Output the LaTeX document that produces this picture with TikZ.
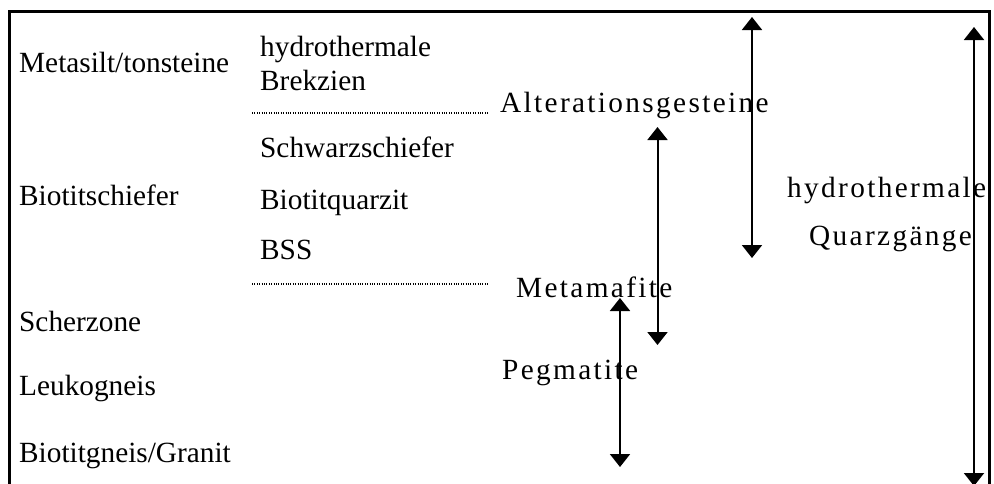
\documentclass[tikz,border=0pt]{standalone}
\usepackage{fontspec}
\setmainfont{Liberation Serif}
\newfontfamily\spacedfont[LetterSpace=8]{Liberation Serif}
\usetikzlibrary{arrows.meta}
\tikzset{
  lbl/.style={inner sep=0pt, anchor=base west, font=\fontsize{29.3}{35}\selectfont},
  slbl/.style={inner sep=0pt, anchor=base west, font=\fontsize{29.3}{35}\spacedfont},
  frame/.style={line width=3pt},
  dbl/.style={line width=2pt, {Triangle[width=20pt,length=13pt]}-{Triangle[width=20pt,length=13pt]}},
  sep/.style={line width=1.6pt, dash pattern=on 1pt off 1.4pt}
}
\begin{document}
\begin{tikzpicture}[x=1pt,y=-1pt]
\useasboundingbox (0,0) rectangle (994,483);
\begin{scope}
\clip (0,0) rectangle (994,483);
% frame
\coordinate (fbl) at (9,490);
\coordinate (ftl) at (9,11);
\coordinate (ftr) at (989,11);
\coordinate (fbr) at (989,490);
\draw[frame] (fbl) -- (ftl) -- (ftr) -- (fbr);

% left column
\node[lbl] (metasilt) at (19,72) {Metasilt/tonsteine};
\node[lbl] (biotitsch) at (19,205) {Biotitschiefer};
\node[lbl] (scher) at (19,331) {Scherzone};
\node[lbl] (leuko) at (19,395) {Leukogneis};
\node[lbl] (biotitgn) at (19,462) {Biotitgneis/Granit};

% middle column
\node[lbl] (hydbrek) at (260,56) {hydrothermale};
\node[lbl] (brek) at (260,90) {Brekzien};
\node[lbl] (schwarz) at (260,157) {Schwarzschiefer};
\node[lbl] (bquarz) at (260,209) {Biotitquarzit};
\node[lbl] (bss) at (260,259) {BSS};

% dotted separators
\coordinate (d1a) at (252,113);
\coordinate (d1b) at (488,113);
\coordinate (d2a) at (252,284);
\coordinate (d2b) at (488,284);
\draw[sep] (d1a) -- (d1b);
\draw[sep] (d2a) -- (d2b);

% spaced labels
\node[slbl] (alter) at (500,112) {Alterationsgesteine};
\node[slbl] (meta) at (516,297) {Metamafite};
\node[slbl] (pegm) at (502,379) {Pegmatite};
\node[slbl] (hydq) at (787,197) {hydrothermale};
\node[slbl] (quarz) at (809,245) {Quarzgänge};

% arrows
\coordinate (a1t) at (752,17);
\coordinate (a1b) at (752,258);
\coordinate (a2t) at (974,27);
\coordinate (a2b) at (974,486);
\coordinate (a3t) at (657.5,127);
\coordinate (a3b) at (657.5,345);
\coordinate (a4t) at (620,298);
\coordinate (a4b) at (620,467);
\draw[dbl] (a1t) -- (a1b);
\draw[dbl] (a2t) -- (a2b);
\draw[dbl] (a3t) -- (a3b);
\draw[dbl] (a4t) -- (a4b);
\end{scope}
\end{tikzpicture}
\end{document}
